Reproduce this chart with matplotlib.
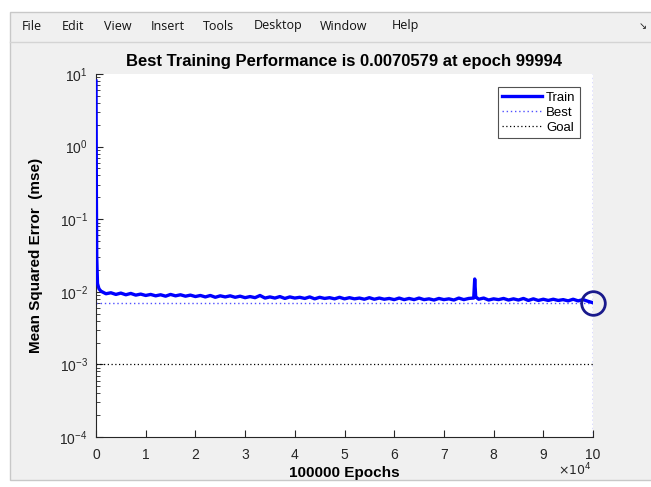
import matplotlib.pyplot as plt
import matplotlib.ticker as mticker
from matplotlib.patches import Rectangle
from matplotlib.lines import Line2D

# training record
epochs = [0, 30, 80, 150, 300, 600,
          1000, 2000, 3000, 4000, 5000, 6000, 7000, 8000, 9000, 10000,
          11000, 12000, 13000, 14000, 15000, 16000, 17000, 18000, 19000, 20000,
          21000, 22000, 23000, 24000, 25000, 26000, 27000, 28000, 29000, 30000,
          31000, 32000, 33000, 34000, 35000, 36000, 37000, 38000, 39000, 40000,
          41000, 42000, 43000, 44000, 45000, 46000, 47000, 48000, 49000, 50000,
          51000, 52000, 53000, 54000, 55000, 56000, 57000, 58000, 59000, 60000,
          61000, 62000, 63000, 64000, 65000, 66000, 67000, 68000, 69000, 70000,
          71000, 72000, 73000, 74000, 75000, 76000, 76200, 76400, 77000, 78000, 79000, 80000,
          81000, 82000, 83000, 84000, 85000, 86000, 87000, 88000, 89000, 90000,
          91000, 92000, 93000, 94000, 95000, 96000, 97000, 98000, 99000, 99994]
train_mse = [8.0, 2.0, 0.2, 0.03, 0.013, 0.011,
             0.0102, 0.0094, 0.0097, 0.0092, 0.0096, 0.0091, 0.0095, 0.0090, 0.0093, 0.0089,
             0.0092, 0.0088, 0.0091, 0.0087, 0.0092, 0.0088, 0.0091, 0.0087, 0.0090, 0.0086,
             0.0089, 0.0085, 0.0089, 0.0084, 0.0088, 0.0085, 0.0088, 0.0084, 0.0087, 0.0083,
             0.0086, 0.0083, 0.0089, 0.0082, 0.0085, 0.0082, 0.0086, 0.0081, 0.0085, 0.0082,
             0.0084, 0.0081, 0.0085, 0.0080, 0.0084, 0.0081, 0.0083, 0.0080, 0.0084, 0.0080,
             0.0083, 0.0080, 0.0082, 0.0079, 0.0083, 0.0079, 0.0082, 0.0079, 0.0081, 0.0078,
             0.0082, 0.0078, 0.0081, 0.0078, 0.0082, 0.0078, 0.0080, 0.0077, 0.0081, 0.0078,
             0.0080, 0.0077, 0.0082, 0.0078, 0.0081, 0.0082, 0.0150, 0.0085, 0.0079, 0.0082, 0.0077, 0.0080,
             0.0078, 0.0081, 0.0077, 0.0080, 0.0077, 0.0081, 0.0076, 0.0080, 0.0076, 0.0079,
             0.0076, 0.0079, 0.0076, 0.0078, 0.0075, 0.0079, 0.0075, 0.0078, 0.0074, 0.00706]
best_epoch = 99994
best_perf = 0.0070579
goal = 0.001
menu_items = ["File", "Edit", "View", "Insert", "Tools", "Desktop", "Window", "Help"]
menu_x = [22, 62, 104, 151, 203, 254, 320, 392]

W, H = 651, 487
fig = plt.figure(figsize=(W / 100, H / 100), dpi=100, facecolor="white")
plt.rcParams['font.family'] = ['Liberation Sans', 'DejaVu Sans']

# window frame + menu bar
fig.patches.append(Rectangle((10 / W, 1 - 480 / H), 645 / W, 468 / H, transform=fig.transFigure,
                             facecolor="#f0f0f0", edgecolor="#c8c8c8", lw=1, zorder=-5))
fig.add_artist(Line2D([10 / W, 1], [1 - 42 / H, 1 - 42 / H], color="#d4d4d4", lw=1, zorder=-4))
for name, x in zip(menu_items, menu_x):
    fig.text(x / W, 1 - 26 / H, name, fontsize=9, va="center", ha="left",
             family=["Open Sans", "DejaVu Sans"], color="#111111")
fig.text(643 / W, 1 - 26 / H, "\u2198", fontsize=7, va="center", ha="center", color="#222222")

ax = fig.add_axes([96 / W, 1 - 437 / H, 497 / W, 363 / H])
ax.set_zorder(2)
ax.set_facecolor("white")

ax.semilogy(epochs, train_mse, color="blue", lw=2.4, label="Train", zorder=3)
ax.axhline(best_perf, color="#5050ff", lw=1, ls=(0, (1, 2)), label="Best")
ax.axvline(best_epoch, color="#5050ff", lw=1, ls=(0, (1, 2)))
ax.axhline(goal, color="black", lw=0.9, ls=(0, (1, 2)), label="Goal")
ax.plot([best_epoch], [best_perf], "o", ms=17, mfc="none", mec="#1a1a8c", mew=2, clip_on=False, zorder=4)

ax.set_xlim(0, 100000)
ax.set_ylim(1e-4, 1e1)
ax.xaxis.set_major_locator(mticker.MultipleLocator(10000))
ax.xaxis.set_major_formatter(mticker.FuncFormatter(lambda v, p: f"{v / 1e4:g}"))
ax.yaxis.set_major_locator(mticker.LogLocator(base=10, numticks=10))
ax.yaxis.set_minor_locator(mticker.LogLocator(base=10, subs=range(2, 10), numticks=20))
ax.yaxis.set_minor_formatter(mticker.NullFormatter())
ax.tick_params(direction="in", which="both", labelsize=10, colors="#262626", pad=6)
ax.tick_params(axis="x", pad=8)
ax.tick_params(which="major", length=5)
ax.tick_params(which="minor", length=3)
for s in ["top", "right"]:
    ax.spines[s].set_visible(False)
for s in ["left", "bottom"]:
    ax.spines[s].set_color("#262626")

ax.set_title("Best Training Performance is 0.0070579 at epoch 99994",
             fontsize=12, fontweight="bold", pad=6)
ax.set_xlabel("100000 Epochs", fontsize=11, fontweight="bold", labelpad=3)
ax.set_ylabel("Mean Squared Error  (mse)", fontsize=11, fontweight="bold", labelpad=12)
fig.text(575 / W, 1 - 470 / H, r"$\times10^4$", fontsize=9, color="#262626", va="center", ha="center")

leg = ax.legend(loc="upper right", bbox_to_anchor=(484 / 497, 1 - 13 / 363), fontsize=9.5,
                frameon=True, fancybox=False, edgecolor="#262626", handlelength=3.0,
                handletextpad=0.3, borderpad=0.35, labelspacing=0.2, borderaxespad=0)
leg.get_frame().set_linewidth(0.8)

fig.savefig("out.png", dpi=100, facecolor=fig.get_facecolor())
